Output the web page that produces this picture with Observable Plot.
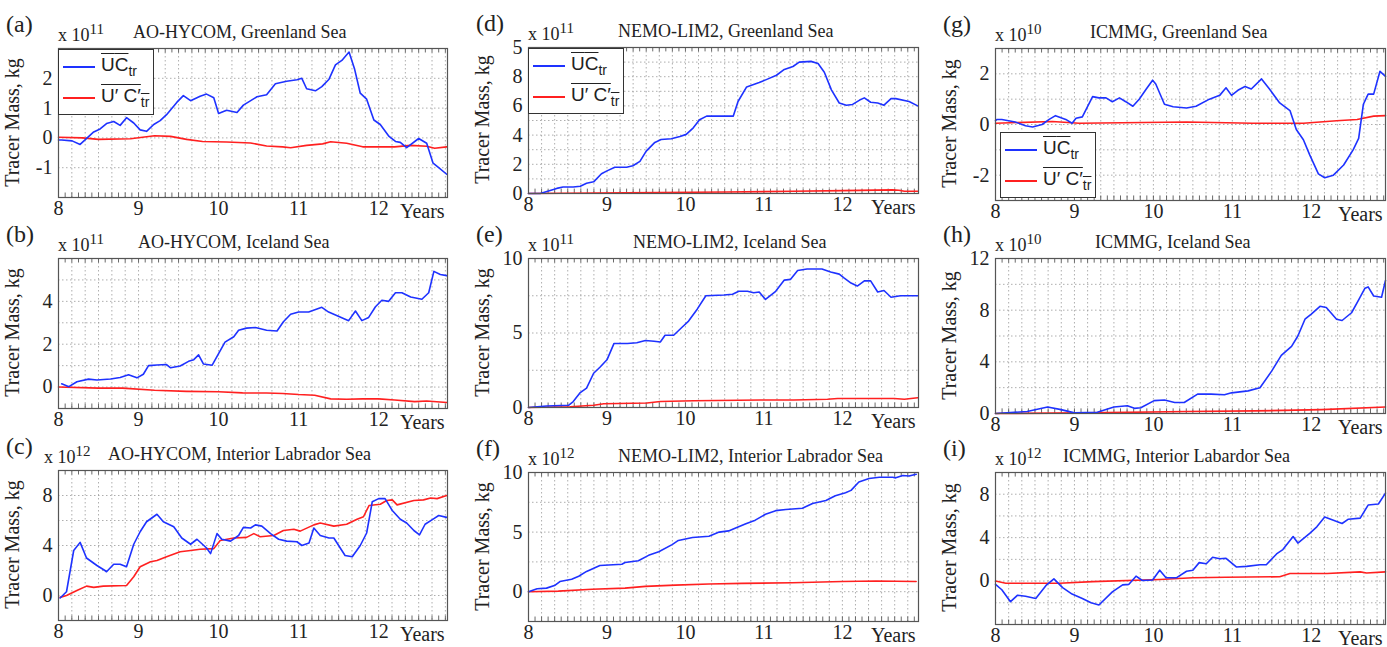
<!DOCTYPE html>
<html><head><meta charset="utf-8">
<script src="https://cdn.jsdelivr.net/npm/d3@7"></script>
<script src="https://cdn.jsdelivr.net/npm/@observablehq/plot@0.6"></script>
<style>
body{margin:0;background:#fff;}
#wrap{position:relative;width:1387px;height:647px;overflow:hidden;font-family:"Liberation Serif",serif;color:#222;}
#wrap svg text{font-size:20px !important;font-family:"Liberation Serif",serif !important;}
.abs{position:absolute;white-space:nowrap;}
.lab{font-size:24px;}
.mul{font-size:18px;}
.ttl{font-size:18px;}
.yl{font-size:20px;transform:rotate(-90deg);transform-origin:center;}
.yrs{font-size:20px;line-height:20px;}
.leg{position:absolute;background:#fff;border:1px solid #333;font-family:"Liberation Sans",sans-serif;font-size:19px;padding:1px 4px;}
.leg div{display:flex;align-items:center;height:31px;}
.leg .sw{display:inline-block;width:32px;height:0;border-top:2px solid;margin-right:6px;}
.ob{text-decoration:overline;}
sub{font-size:14px;}
</style></head><body><div id="wrap"></div>
<script>
const aBlue=[[8.0,-0.07],[8.04,-0.07],[8.17,-0.1],[8.27,-0.22],[8.44,0.2],[8.52,0.3],[8.60,0.48],[8.69,0.55],[8.77,0.42],[8.85,0.68],[8.94,0.5],[9.02,0.27],[9.10,0.22],[9.19,0.45],[9.27,0.58],[9.35,0.78],[9.48,1.2],[9.56,1.42],[9.65,1.25],[9.77,1.4],[9.85,1.47],[9.94,1.35],[10.0,0.82],[10.10,0.93],[10.23,0.85],[10.31,1.1],[10.48,1.38],[10.60,1.45],[10.71,1.82],[10.85,1.9],[10.98,1.95],[11.04,2.0],[11.10,1.65],[11.21,1.58],[11.29,1.72],[11.38,1.97],[11.46,2.45],[11.54,2.6],[11.63,2.88],[11.70,2.3],[11.77,1.5],[11.85,1.3],[11.94,0.6],[12.02,0.45],[12.13,0.05],[12.21,-0.12],[12.27,-0.15],[12.35,-0.33],[12.5,-0.02],[12.6,-0.18],[12.68,-0.85],[12.75,-1.0],[12.85,-1.22]];
const aRed=[[8.0,0.02],[8.3,0.0],[8.5,-0.05],[8.9,-0.03],[9.2,0.07],[9.4,0.05],[9.6,-0.05],[9.8,-0.12],[10.1,-0.14],[10.4,-0.17],[10.6,-0.27],[10.8,-0.3],[10.9,-0.33],[11.1,-0.25],[11.3,-0.2],[11.4,-0.13],[11.6,-0.18],[11.8,-0.3],[12.0,-0.3],[12.2,-0.3],[12.4,-0.25],[12.6,-0.28],[12.7,-0.35],[12.85,-0.3]];
const bBlue=[[8.04,0.15],[8.13,0.02],[8.23,0.25],[8.375,0.37],[8.48,0.33],[8.65,0.38],[8.77,0.45],[8.875,0.57],[8.98,0.43],[9.06,0.6],[9.125,1.0],[9.23,1.03],[9.35,1.05],[9.4,0.9],[9.52,0.98],[9.625,1.2],[9.69,1.28],[9.75,1.5],[9.81,1.08],[9.92,1.02],[10.08,2.1],[10.19,2.35],[10.25,2.65],[10.35,2.75],[10.46,2.78],[10.6,2.65],[10.73,2.62],[10.81,3.05],[10.9,3.4],[11.0,3.5],[11.125,3.5],[11.29,3.72],[11.375,3.5],[11.625,3.1],[11.71,3.55],[11.79,3.1],[11.875,3.25],[11.96,3.75],[12.04,4.05],[12.125,4.0],[12.21,4.4],[12.29,4.4],[12.4,4.2],[12.54,4.1],[12.625,4.4],[12.69,5.4],[12.77,5.25],[12.85,5.2]];
const bRed=[[8.0,0.0],[8.5,-0.05],[8.8,-0.05],[9.2,-0.15],[9.6,-0.2],[10.0,-0.22],[10.3,-0.27],[10.6,-0.28],[10.8,-0.3],[11.0,-0.35],[11.2,-0.38],[11.4,-0.55],[11.6,-0.57],[11.8,-0.55],[12.0,-0.55],[12.2,-0.6],[12.45,-0.68],[12.6,-0.65],[12.85,-0.72]];
const cBlue=[[8.02,-0.2],[8.10,0.3],[8.19,3.6],[8.27,4.25],[8.35,3.0],[8.48,2.4],[8.58,2.0],[8.60,1.9],[8.69,2.5],[8.77,2.5],[8.85,2.3],[8.94,4.1],[9.02,5.1],[9.10,5.9],[9.23,6.5],[9.31,5.9],[9.44,5.5],[9.54,4.6],[9.65,4.1],[9.73,4.5],[9.85,3.8],[9.90,3.35],[9.98,4.95],[10.04,4.5],[10.15,4.35],[10.25,4.8],[10.31,5.45],[10.40,5.4],[10.46,5.65],[10.54,5.55],[10.65,4.95],[10.75,4.5],[10.85,4.35],[10.98,4.3],[11.04,4.0],[11.13,4.2],[11.19,5.4],[11.27,4.8],[11.38,4.6],[11.44,4.6],[11.58,3.2],[11.67,3.1],[11.77,4.0],[11.85,5.0],[11.92,7.5],[12.0,7.75],[12.08,7.75],[12.17,6.8],[12.27,6.1],[12.35,5.8],[12.44,5.2],[12.51,4.85],[12.58,5.7],[12.69,6.15],[12.75,6.4],[12.85,6.25]];
const cRed=[[8.02,-0.15],[8.10,0.0],[8.23,0.4],[8.35,0.75],[8.44,0.65],[8.56,0.75],[8.85,0.8],[8.94,1.5],[9.02,2.3],[9.15,2.7],[9.23,2.8],[9.35,3.1],[9.52,3.5],[9.65,3.6],[9.77,3.7],[9.94,3.75],[10.02,4.4],[10.19,4.6],[10.35,4.65],[10.44,4.95],[10.52,4.7],[10.69,4.8],[10.81,5.2],[10.94,5.3],[11.02,5.15],[11.19,5.65],[11.27,5.8],[11.44,5.55],[11.6,5.7],[11.73,6.1],[11.81,6.3],[11.88,7.2],[12.02,7.3],[12.1,7.6],[12.17,7.65],[12.23,7.25],[12.44,7.6],[12.56,7.65],[12.65,7.8],[12.73,7.75],[12.85,8.0]];
const dBlue=[[8.0,0],[8.15,0],[8.36,0.35],[8.44,0.45],[8.57,0.45],[8.66,0.5],[8.74,0.7],[8.83,0.8],[8.93,1.35],[9.0,1.55],[9.10,1.8],[9.25,1.8],[9.33,1.9],[9.42,2.2],[9.50,2.9],[9.61,3.5],[9.69,3.7],[9.82,3.75],[9.93,3.9],[10.01,4.05],[10.10,4.5],[10.18,5.05],[10.27,5.3],[10.48,5.3],[10.61,5.3],[10.67,6.3],[10.78,7.3],[10.94,7.6],[11.03,7.8],[11.16,8.1],[11.26,8.5],[11.37,8.7],[11.45,9.0],[11.60,9.05],[11.69,8.9],[11.77,8.3],[11.86,7.1],[11.96,6.2],[12.05,6.05],[12.13,6.1],[12.22,6.4],[12.28,6.55],[12.36,6.25],[12.45,6.2],[12.53,6.05],[12.62,6.5],[12.68,6.5],[12.85,6.3],[12.96,6.0]];
const dRed=[[8.0,0],[9.25,0.05],[10.52,0.1],[11.37,0.15],[12.0,0.2],[12.64,0.25],[12.72,0.22],[12.79,0.15],[12.96,0.15]];
const eBlue=[[8.0,0],[8.23,0.1],[8.51,0.15],[8.57,0.4],[8.66,1.0],[8.74,1.3],[8.83,2.3],[8.91,2.7],[9.0,3.2],[9.09,4.3],[9.26,4.3],[9.38,4.35],[9.49,4.5],[9.60,4.45],[9.68,4.4],[9.74,4.85],[9.85,4.85],[9.96,5.4],[10.04,5.8],[10.15,6.6],[10.26,7.5],[10.49,7.55],[10.60,7.6],[10.68,7.8],[10.79,7.8],[10.87,7.7],[10.94,7.75],[11.02,7.25],[11.15,7.8],[11.26,8.55],[11.34,8.6],[11.43,9.2],[11.55,9.3],[11.74,9.3],[11.85,9.1],[11.96,8.95],[12.02,8.7],[12.11,8.35],[12.19,8.15],[12.28,8.5],[12.36,8.5],[12.45,7.75],[12.53,7.85],[12.62,7.4],[12.74,7.5],[12.96,7.5]];
const eRed=[[8.0,0],[8.53,0.05],[8.83,0.15],[8.96,0.25],[9.51,0.3],[9.68,0.4],[10.11,0.45],[10.96,0.5],[11.38,0.5],[11.81,0.55],[11.94,0.6],[12.66,0.6],[12.79,0.55],[12.96,0.65]];
const fBlue=[[8.0,0],[8.11,0.25],[8.23,0.3],[8.34,0.55],[8.40,0.85],[8.55,1.05],[8.64,1.3],[8.74,1.7],[8.91,2.2],[9.19,2.3],[9.23,2.45],[9.40,2.6],[9.53,3.05],[9.66,3.35],[9.83,3.95],[9.91,4.3],[10.09,4.55],[10.30,4.65],[10.43,5.0],[10.55,5.1],[10.64,5.35],[10.77,5.7],[10.89,6.0],[11.02,6.5],[11.15,6.8],[11.28,6.9],[11.49,7.0],[11.62,7.4],[11.79,7.65],[11.91,8.05],[12.04,8.3],[12.11,8.5],[12.21,9.2],[12.34,9.5],[12.47,9.6],[12.64,9.6],[12.68,9.55],[12.77,9.75],[12.85,9.7],[12.94,9.85]];
const fRed=[[8.0,0],[8.38,0.05],[8.81,0.2],[9.23,0.3],[9.49,0.45],[9.87,0.55],[10.3,0.65],[10.72,0.7],[11.36,0.75],[12.0,0.85],[12.43,0.9],[12.94,0.85]];
const gBlue=[[8.0,0.15],[8.02,0.2],[8.08,0.2],[8.25,0.1],[8.38,-0.05],[8.47,-0.1],[8.59,0],[8.68,0.2],[8.76,0.35],[8.89,0.2],[8.97,0.05],[9.02,0.25],[9.10,0.3],[9.14,0.55],[9.23,1.1],[9.31,1.05],[9.40,1.05],[9.48,0.9],[9.57,1.05],[9.65,0.9],[9.74,0.72],[9.82,1.0],[9.91,1.4],[9.99,1.75],[10.03,1.6],[10.14,0.8],[10.25,0.7],[10.42,0.65],[10.54,0.72],[10.71,1.0],[10.84,1.15],[10.92,1.45],[10.99,1.15],[11.07,1.35],[11.16,1.5],[11.24,1.4],[11.37,1.8],[11.47,1.4],[11.60,0.85],[11.73,0.55],[11.81,-0.2],[11.90,-0.6],[11.98,-1.2],[12.09,-1.95],[12.17,-2.1],[12.28,-2.0],[12.41,-1.6],[12.53,-1.0],[12.60,-0.55],[12.66,0.8],[12.72,1.2],[12.79,1.2],[12.87,2.1],[12.94,1.9]];
const gRed=[[8.0,0.05],[8.72,0.12],[9.06,0.05],[10.42,0.1],[11.26,0.05],[11.90,0.05],[12.32,0.15],[12.58,0.2],[12.79,0.33],[12.94,0.35]];
const hBlue=[[8.0,0],[8.40,0.15],[8.66,0.5],[8.83,0.3],[9.0,0.05],[9.29,0.1],[9.50,0.5],[9.67,0.6],[9.76,0.4],[9.84,0.45],[10.01,1.0],[10.14,1.05],[10.27,0.85],[10.39,0.85],[10.56,1.5],[10.73,1.5],[10.90,1.45],[10.99,1.6],[11.20,1.75],[11.35,2.0],[11.50,3.3],[11.62,4.5],[11.75,5.2],[11.83,6.0],[11.92,7.3],[12.0,7.7],[12.11,8.3],[12.19,8.2],[12.32,7.3],[12.39,7.2],[12.51,7.8],[12.60,8.8],[12.68,9.7],[12.72,9.8],[12.79,9.1],[12.89,9.0],[12.94,10.3]];
const hRed=[[8.0,0],[9.16,0.05],[10.43,0.15],[11.28,0.2],[12.13,0.3],[12.94,0.5]];
const iBlue=[[8.0,-0.3],[8.08,-0.8],[8.19,-1.9],[8.28,-1.3],[8.38,-1.4],[8.51,-1.6],[8.64,-0.4],[8.74,0.2],[8.85,-0.6],[8.97,-1.2],[9.10,-1.6],[9.21,-2.0],[9.31,-2.2],[9.48,-1.0],[9.61,-0.35],[9.69,-0.3],[9.78,0.45],[9.86,0.05],[9.99,0.1],[10.08,1.0],[10.16,0.3],[10.29,0.3],[10.42,0.9],[10.5,1.0],[10.58,1.7],[10.67,1.6],[10.75,2.2],[10.84,2.05],[10.92,2.1],[11.05,1.3],[11.18,1.35],[11.35,1.5],[11.43,1.5],[11.56,2.5],[11.64,2.9],[11.77,4.1],[11.83,3.5],[11.98,4.4],[12.07,5.0],[12.17,5.9],[12.28,5.6],[12.39,5.3],[12.47,5.7],[12.62,5.8],[12.72,7.0],[12.85,7.1],[12.94,8.1]];
const iRed=[[8.0,0],[8.13,-0.2],[8.81,-0.2],[9.23,-0.05],[10.08,0.15],[10.5,0.3],[10.92,0.35],[11.6,0.4],[11.73,0.7],[12.2,0.7],[12.62,0.85],[12.7,0.75],[12.94,0.85]];

const xTicks=[8,9,10,11,12];
const panels=[
 {id:"(a)",title:"AO-HYCOM, Greenland Sea",exp:"11",blue:aBlue,red:aRed,L:58,R:447,T:48,B:197,xmax:12.86,y:[-2,3],yt:[-1,0,1,2],yg:1,leg:"top",tx:75},
 {id:"(b)",title:"AO-HYCOM, Iceland Sea",exp:"11",blue:bBlue,red:bRed,L:58,R:447,T:258,B:408,xmax:12.86,y:[-1,6],yt:[0,2,4],yg:1,tx:80},
 {id:"(c)",title:"AO-HYCOM, Interior Labrador Sea",exp:"12",blue:cBlue,red:cRed,L:58,R:447,T:470,B:620,xmax:12.86,y:[-2,10],yt:[0,4,8],yg:2,tight:true,tx:50},
 {id:"(d)",title:"NEMO-LIM2, Greenland Sea",exp:"11",blue:dBlue,red:dRed,L:528,R:918,T:47,B:193,xmax:12.97,y:[0,10],yt:[0,2,4,6,8,10],yg:1,leg:"top",fmt:d=>d===10?"5":String(d),tx:90},
 {id:"(e)",title:"NEMO-LIM2, Iceland Sea",exp:"11",blue:eBlue,red:eRed,L:528,R:918,T:258,B:407,xmax:12.97,y:[0,10],yt:[0,5,10],yg:2.5,tx:105},
 {id:"(f)",title:"NEMO-LIM2, Interior Labrador Sea",exp:"12",blue:fBlue,red:fRed,L:528,R:918,T:472,B:621,xmax:12.97,y:[-2.5,10],yt:[0,5,10],yg:2.5,tx:90},
 {id:"(g)",title:"ICMMG, Greenland Sea",exp:"10",blue:gBlue,red:gRed,L:995,R:1385,T:48,B:200,xmax:12.94,y:[-3,3],yt:[-2,0,2],yg:1,leg:"bottom",tx:95},
 {id:"(h)",title:"ICMMG, Iceland Sea",exp:"10",blue:hBlue,red:hRed,L:995,R:1385,T:258,B:413,xmax:12.94,y:[0,12],yt:[0,4,8,12],yg:2,tx:100},
 {id:"(i)",title:"ICMMG, Interior Labardor Sea",exp:"12",blue:iBlue,red:iRed,L:995,R:1385,T:472,B:624,xmax:12.94,y:[-4,10],yt:[0,4,8],yg:2,tx:68}
];
const wrap=document.getElementById("wrap");
function add(html,cls,x,y,extra=""){const d=document.createElement("div");d.className="abs "+cls;d.style.left=x+"px";d.style.top=y+"px";d.innerHTML=html;if(extra)d.style.cssText+=extra;wrap.appendChild(d);return d;}
const ML=40,MR=4,MT=4,MB=26;
panels.forEach(p=>{
  const yg=d3.range(p.y[0],p.y[1]+1e-9,p.yg);
  const xg=d3.range(8,13,1/6).filter(v=>v<p.xmax);
  const xm=d3.range(8,13,1/12).filter(v=>v<p.xmax);
  const span=p.y[1]-p.y[0], tl=span*0.03;
  const fmt=p.fmt||(d=>String(d));
  const plot=Plot.plot({
    width:(p.R-p.L)+ML+MR,height:(p.B-p.T)+MT+MB,
    marginLeft:ML,marginRight:MR,marginTop:MT,marginBottom:MB,
    style:{background:"transparent",overflow:"visible",color:"#222"},
    x:{type:"linear",domain:[8,p.xmax]},
    y:{type:"linear",domain:p.y},
    marks:[
      Plot.ruleX(xg,{stroke:"#999",strokeDasharray:"1.5,2.5",strokeWidth:0.8}),
      Plot.ruleY(yg,{stroke:"#999",strokeDasharray:"1.5,2.5",strokeWidth:0.8}),
      Plot.ruleX(xm,{x:d=>d,y1:()=>p.y[1],y2:()=>p.y[1]-tl,stroke:"#444",strokeWidth:0.8}),
      Plot.ruleX(xm,{x:d=>d,y1:()=>p.y[0],y2:()=>p.y[0]+tl,stroke:"#444",strokeWidth:0.8}),
      Plot.line(p.red,{x:d=>d[0],y:d=>d[1],stroke:"#ff2020",strokeWidth:1.6}),
      Plot.line(p.blue,{x:d=>d[0],y:d=>d[1],stroke:"#1e32ff",strokeWidth:1.6}),
      Plot.frame({stroke:"#555",strokeWidth:1.2}),
      Plot.axisX({ticks:xTicks,tickSize:0,tickPadding:3,tickFormat:d=>String(d),label:null}),
      Plot.axisY({ticks:p.yt,tickSize:0,tickPadding:6,tickFormat:fmt,label:null})
    ]
  });
  plot.style.position="absolute";
  plot.style.left=(p.L-ML)+"px";plot.style.top=(p.T-MT)+"px";
  wrap.appendChild(plot);
  add(p.id,"lab",p.L-52,p.T-37);
  add("x 10<sup style='font-size:15px'>"+p.exp+"</sup>","mul",p.L+(p.tight?-14:0),p.T-27);
  add(p.title,"ttl",p.L+p.tx,p.T-26);
  add("Years","yrs",p.R-48,p.B+4,"background:#fff;padding:0 1px;");
  const yl=add("Tracer Mass, kg","yl",p.L-126,(p.T+p.B)/2-12);
  yl.style.width="160px";yl.style.textAlign="center";
  if(p.leg){
    const lg=document.createElement("div");lg.className="leg";
    lg.style.left=(p.L+(p.L>900?5:0))+"px";
    lg.style.top=(p.leg==="top"?p.T+1:p.B-68)+"px";
    lg.innerHTML="<div><span class='sw' style='border-color:#1e32ff'></span><span><span class='ob'>U</span><span class='ob'>C</span><sub>tr</sub></span></div><div><span class='sw' style='border-color:#ff2020'></span><span class='ob'>U′ C′<sub>tr</sub></span></div>";
    wrap.appendChild(lg);
  }
});
</script></body></html>
